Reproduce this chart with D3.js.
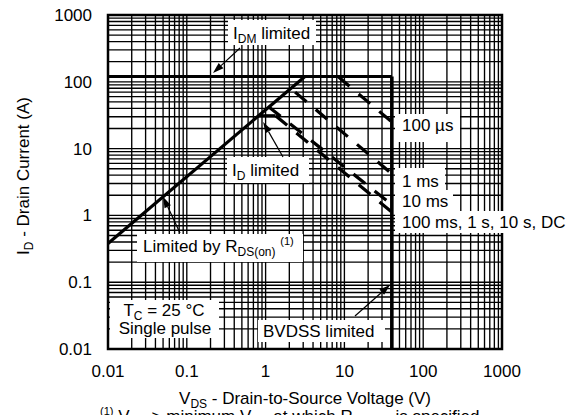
<!DOCTYPE html>
<html><head><meta charset="utf-8">
<script src="https://cdn.jsdelivr.net/npm/d3@7"></script>
<style>body{margin:0;background:#fff}svg text{font-family:"Liberation Sans",Arial,sans-serif;fill:#000}</style>
</head><body><svg id="c" width="575" height="415"></svg>
<script>
// ---- data ----
const xTickValues = [0.01, 0.1, 1, 10, 100, 1000];
const xTickLabels = ["0.01", "0.1", "1", "10", "100", "1000"];
const yTickValues = [0.01, 0.1, 1, 10, 100, 1000];
const yTickLabels = ["0.01", "0.1", "1", "10", "100", "1000"];
// limit lines [V, A]
const rdsLimit   = [[0.01, 0.38], [3.16, 120]];
const idmLimit   = [[0.01, 120], [40, 120]];
const bvdssLimit = [[40, 120], [40, 0.01]];
const idLimit    = [[0.82, 31], [1.34, 31]];
// pulse curves [V, A]
const pulse100us = [[8.3, 120], [40, 25]];
const pulse1ms   = [[2.07, 80], [40, 4.2]];
const pulse10ms  = [[1.1, 42], [40, 1.45]];
const pulseDC    = [[1.34, 31], [40, 1.12]];

// ---- layout ----
const svg = d3.select("#c");
const L = 108, R = 502, T = 15, B = 349;
const x = d3.scaleLog().domain([0.01, 1000]).range([L, R]);
const y = d3.scaleLog().domain([0.01, 1000]).range([B, T]);

// grid
const g = svg.append("g");
g.selectAll("line.v").data(x.ticks()).join("line")
  .attr("x1", d => x(d)).attr("x2", d => x(d))
  .attr("y1", T).attr("y2", B).attr("stroke", "#000").attr("stroke-width", 1.35);
g.selectAll("line.h").data(y.ticks()).join("line")
  .attr("y1", d => y(d)).attr("y2", d => y(d))
  .attr("x1", L).attr("x2", R).attr("stroke", "#000").attr("stroke-width", 1.35);

// tick labels
const FS = 17;
svg.append("g").selectAll("text").data(xTickValues).join("text")
  .attr("x", d => x(d)).attr("y", 377).attr("text-anchor", "middle")
  .attr("font-size", FS).text((d, i) => xTickLabels[i]);
svg.append("g").selectAll("text").data(yTickValues).join("text")
  .attr("x", 92).attr("y", d => y(d) + 6).attr("text-anchor", "end")
  .attr("font-size", FS).text((d, i) => yTickLabels[i]);

// rich text helper
function rich(sel, parts, fs) {
  let shift = 0;
  parts.forEach(p => {
    let target = p.sub ? 4 : p.sup ? -7 : 0;
    const t = sel.append("tspan").text(p.t)
      .attr("font-size", p.sub ? 12 : p.sup ? 11 : fs);
    if (target !== shift) { t.attr("dy", target - shift); shift = target; }
  });
  return sel;
}

// axis titles
rich(svg.append("text").attr("x", 305).attr("y", 404).attr("text-anchor", "middle"),
  [{t: "V"}, {t: "DS", sub: true}, {t: " - Drain-to-Source Voltage (V)"}], FS);
rich(svg.append("text").attr("transform", "translate(29,176) rotate(-90)").attr("text-anchor", "middle"),
  [{t: "I"}, {t: "D", sub: true}, {t: " - Drain Current (A)"}], FS);
rich(svg.append("text").attr("x", 100).attr("y", 422).attr("text-anchor", "start"),
  [{t: "(1)", sup: true}, {t: " V"}, {t: "GS", sub: true}, {t: " > minimum V"}, {t: "GS", sub: true},
   {t: " at which R"}, {t: "DS(on)", sub: true}, {t: " is specified"}], FS);

// curves
const line = d3.line().x(d => x(d[0])).y(d => y(d[1]));
const curves = svg.append("g").attr("fill", "none").attr("stroke", "#000");
curves.append("path").attr("d", line(rdsLimit)).attr("stroke-width", 3.2);
curves.append("path").attr("d", line(idmLimit)).attr("stroke-width", 3.2);
curves.append("path").attr("d", line(bvdssLimit)).attr("stroke-width", 3.6);
curves.append("path").attr("d", line(idLimit)).attr("stroke-width", 3.2);
[[pulse100us, 0], [pulse1ms, 21], [pulse10ms, 0], [pulseDC, 0]].forEach(([d, off]) => {
  curves.append("path").attr("d", line(d)).attr("stroke-width", 3.2)
    .attr("stroke-dasharray", "15,12").attr("stroke-dashoffset", off);
});

// frame
svg.append("rect").attr("x", L).attr("y", T).attr("width", R - L).attr("height", B - T)
  .attr("fill", "none").attr("stroke", "#000").attr("stroke-width", 2.5);

// annotation boxes
function box(bx, by, bw, bh) {
  svg.append("rect").attr("x", bx).attr("y", by).attr("width", bw).attr("height", bh).attr("fill", "#fff");
}
function arrow(x1, y1, tip) {
  const x2 = x(tip[0]), y2 = y(tip[1]);
  const a = Math.atan2(y2 - y1, x2 - x1), len = 11, w = 3.5;
  const bx = x2 - len * Math.cos(a), by = y2 - len * Math.sin(a);
  svg.append("line").attr("x1", x1).attr("y1", y1).attr("x2", bx).attr("y2", by)
    .attr("stroke", "#000").attr("stroke-width", 1.2);
  svg.append("path").attr("d", `M${x2},${y2}L${bx + w * Math.sin(a)},${by - w * Math.cos(a)}L${bx - w * Math.sin(a)},${by + w * Math.cos(a)}Z`)
    .attr("fill", "#000");
}

box(228, 20, 88, 25);
rich(svg.append("text").attr("x", 233).attr("y", 39), [{t: "I"}, {t: "DM", sub: true}, {t: " limited"}], FS);
arrow(240, 48, [0.215, 135]);

box(227, 157, 82, 26);
rich(svg.append("text").attr("x", 232).attr("y", 176), [{t: "I"}, {t: "D", sub: true}, {t: " limited"}], FS);
arrow(283, 157, [0.93, 25]);

box(137, 234, 166, 28);
rich(svg.append("text").attr("x", 143).attr("y", 252),
  [{t: "Limited by R"}, {t: "DS(on)", sub: true}, {t: " "}, {t: "(1)", sup: true}], FS);
arrow(180, 233, [0.05, 1.9]);

box(110, 300, 109, 38);
rich(svg.append("text").attr("x", 164).attr("y", 316).attr("text-anchor", "middle"),
  [{t: "T"}, {t: "C", sub: true}, {t: " = 25 °C"}], FS);
svg.append("text").attr("x", 165).attr("y", 334).attr("text-anchor", "middle").attr("font-size", FS).text("Single pulse");

box(258, 320, 127, 22);
svg.append("text").attr("x", 263).attr("y", 337).attr("font-size", FS).text("BVDSS limited");
arrow(355, 316, [37.9, 0.091]);

box(395, 114, 65, 28);
svg.append("text").attr("x", 402).attr("y", 131).attr("font-size", FS).text("100 µs");
box(395, 168, 50, 22);
svg.append("text").attr("x", 402).attr("y", 187).attr("font-size", FS).text("1 ms");
box(395, 190, 58, 21);
svg.append("text").attr("x", 402).attr("y", 207).attr("font-size", FS).text("10 ms");
box(395, 211, 175, 22);
svg.append("text").attr("x", 402).attr("y", 228).attr("font-size", FS).text("100 ms, 1 s, 10 s, DC");
</script></body></html>
